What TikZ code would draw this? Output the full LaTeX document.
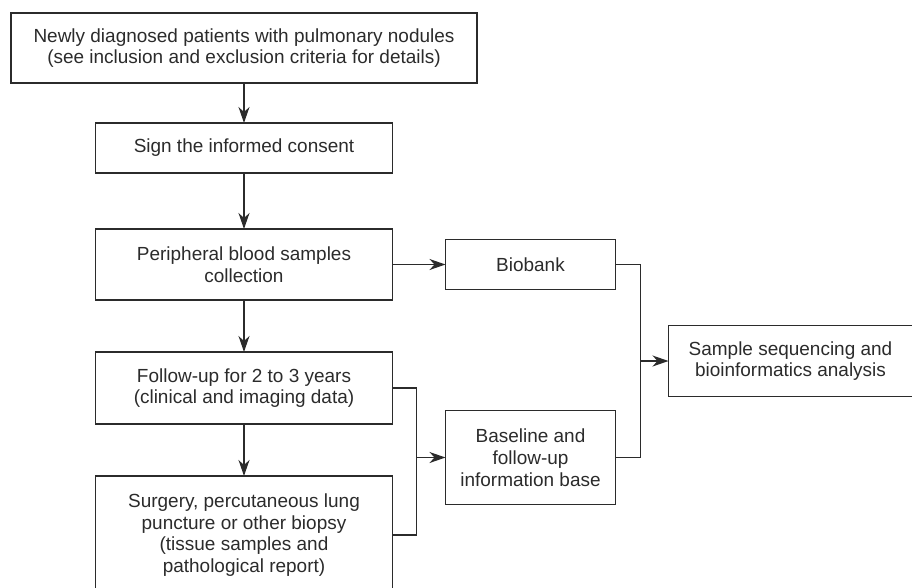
\documentclass[tikz,border=0pt]{standalone}
\usepackage{fontspec}
\setmainfont{Liberation Sans}
\usepackage{tikz}
\usepackage{xcolor}
\usetikzlibrary{positioning, calc, arrows.meta}

\definecolor{ink}{HTML}{2B2B2B}

\begin{document}
\begin{tikzpicture}[
    box/.style={rectangle, draw=ink, line width=0.75pt, text=ink,
      align=center, outer sep=0pt, minimum width=5.94cm,
      font=\fontsize{10.8}{12.4}\selectfont},
    store/.style={box, minimum width=3.4cm},
    line/.style={draw=ink, line width=0.75pt},
    arrow/.style={line, -{Stealth[length=3.2mm, width=2.2mm, inset=1mm]}}
    ]

    % Cadre de l'image
    \useasboundingbox (0,0) rectangle (18.24,-11.74);
    \clip (0,0) rectangle (18.24,-11.74);

    % Colonne principale
    \node[box, minimum width=9.32cm, minimum height=1.4cm] (patients)
    at (4.88,-0.96)
    {Newly diagnosed patients with pulmonary nodules\\
      (see inclusion and exclusion criteria for details)};
    \node[box, minimum height=1cm, below=0.8cm of patients] (consent)
    {Sign the informed consent};
    \node[box, minimum height=1.42cm, below=1.12cm of consent] (blood)
    {Peripheral blood samples\\collection};
    \node[box, minimum height=1.44cm, below=1.04cm of blood] (followup)
    {Follow-up for 2 to 3 years\\(clinical and imaging data)};
    \node[box, minimum height=2.36cm, below=1.04cm of followup] (surgery)
    {Surgery, percutaneous lung\\puncture or other biopsy\\
      (tissue samples and\\pathological report)};

    % Bases
    \node[store, minimum height=1cm, right=1.06cm of blood] (biobank)
    {Biobank};
    \node[store, minimum height=1.88cm, below=2.42cm of biobank] (infobase)
    {Baseline and\\follow-up\\information base};

    % Calcul du milieu
    \path (biobank.east) -- (infobase.east) coordinate[pos=0.5] (bankMid);

    % Analyse
    \node[box, minimum width=4.88cm, minimum height=1.42cm,
      right=1.06cm of bankMid] (sequencing)
    {Sample sequencing and\\bioinformatics analysis};

    % Points de jonction
    \coordinate[right=0.48cm of followup.east] (infoJoin);
    \coordinate[right=0.5cm of biobank.east] (seqJoin);

    % Liens
    \draw[arrow] (patients) -- (consent);
    \draw[arrow] (consent) -- (blood);
    \draw[arrow] (blood) -- (followup);
    \draw[arrow] (followup) -- (surgery);
    \draw[arrow] (blood) -- (biobank);

    \draw[line] (followup.east) -- (infoJoin) |- (surgery.east);
    \draw[arrow] (infoJoin |- infobase.west) -- (infobase.west);

    \draw[line] (biobank.east) -- (seqJoin) |- (infobase.east);
    \draw[arrow] (seqJoin |- sequencing.west) -- (sequencing.west);

  \end{tikzpicture}
\end{document}
